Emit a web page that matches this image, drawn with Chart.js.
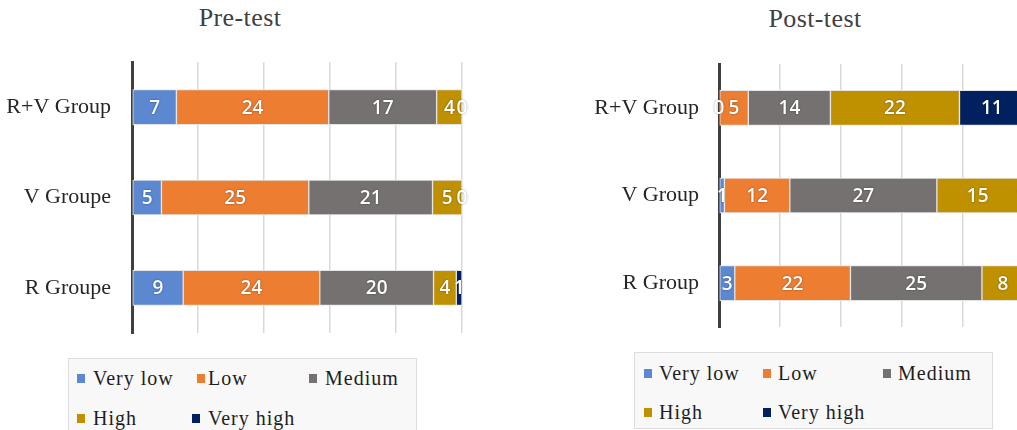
<!DOCTYPE html>
<html>
<head>
<meta charset="utf-8">
<script src="https://cdn.jsdelivr.net/npm/chart.js@4.4.1/dist/chart.umd.min.js"></script>
<style>
  html, body { margin: 0; padding: 0; background: #fff; overflow: hidden; width: 1017px; height: 430px; }
  .box { position: absolute; }
  .title { position: absolute; width: 200px; margin-left: -100px; text-align: center; font-family: 'Liberation Serif', serif; font-size: 26px; line-height: 30px; letter-spacing: 0.4px; color: #404040; }
  .legend { position: absolute; background: #f8f8f8; border: 1px solid #dddddd; box-sizing: border-box; }
  .mark { position: absolute; width: 8px; height: 9px; }
  .txt { position: absolute; font-family: 'Liberation Serif', serif; font-size: 20px; line-height: 24px; letter-spacing: 1px; color: #1e1e1e; white-space: nowrap; }
</style>
</head>
<body>
<div class="title" style="left:240px;top:3px">Pre-test</div>
<div class="title" style="left:815px;top:4px">Post-test</div>
<div class="box" style="left:0;top:0;width:481px;height:340px"><canvas id="preChart"></canvas></div>
<div class="box" style="left:560px;top:0;width:510px;height:340px"><canvas id="postChart"></canvas></div>
<div class="legend" id="preLegend" style="left:68px;top:358px;width:349px;height:80px"></div>
<div class="legend" id="postLegend" style="left:634px;top:352px;width:359px;height:77px"></div>
<script>
const levels = ['Very low', 'Low', 'Medium', 'High', 'Very high'];
const levelColors = ['#5b88d1', '#ed7d31', '#767171', '#bf9000', '#002060'];

const preGroups = ['R+V Group', 'V Groupe', 'R Groupe'];
const preVeryLow = [7, 5, 9];
const preLow = [24, 25, 24];
const preMedium = [17, 21, 20];
const preHigh = [4, 5, 4];
const preVeryHigh = [0, 0, 1];

const postGroups = ['R+V Group', 'V Group', 'R Group'];
const postVeryLow = [0, 1, 3];
const postLow = [5, 12, 22];
const postMedium = [14, 27, 25];
const postHigh = [22, 15, 8];
const postVeryHigh = [11, 1, 0];

const percentTicks = [0, 20, 40, 60, 80, 100];

// labels with the raw counts, centred in each segment
const countLabels = {
    id: 'countLabels',
    afterDatasetsDraw(chart) {
        const ctx = chart.ctx;
        ctx.save();
        ctx.font = '600 19px "Open Sans"';
        ctx.textAlign = 'center';
        ctx.textBaseline = 'middle';
        ctx.fillStyle = '#ffffff';
        ctx.shadowColor = 'rgba(0, 0, 0, 0.45)';
        ctx.shadowBlur = 2;
        chart.data.datasets.forEach((ds, i) => {
            const meta = chart.getDatasetMeta(i);
            meta.data.forEach((bar, j) => {
                const x = (bar.x + bar.base) / 2;
                ctx.fillText(String(ds.counts[j]), x, bar.y + 1);
            });
        });
        ctx.restore();
    }
};

function buildChart(id, groups, series, opts) {
    const totals = groups.map((_, j) => series.reduce((s, arr) => s + arr[j], 0));
    const ctx = document.getElementById(id).getContext('2d');
    return new Chart(ctx, {
        type: 'bar',
        data: {
            labels: groups,
            datasets: series.map((arr, i) => ({
                label: levels[i],
                counts: arr,
                data: arr.map((v, j) => v / totals[j] * 100),
                backgroundColor: levelColors[i],
                borderColor: '#e4e4e4',
                borderWidth: 1,
                borderSkipped: false,
                barThickness: 35
            }))
        },
        options: {
            indexAxis: 'y',
            responsive: true,
            maintainAspectRatio: false,
            animation: false,
            layout: {
                padding: {left: 0, right: opts.padRight, top: opts.padTop, bottom: opts.padBottom}
            },
            plugins: {
                legend: {display: false},
                tooltip: {enabled: false}
            },
            scales: {
                x: {
                    stacked: true,
                    min: 0,
                    max: 100,
                    afterBuildTicks: (scale) => {
                        scale.ticks = percentTicks.map(v => ({value: v}));
                    },
                    ticks: {display: false},
                    border: {display: false},
                    grid: {
                        drawTicks: false,
                        lineWidth: 1.5,
                        color: (c) => c.index === 0 ? 'rgba(0,0,0,0)' : '#d9d9d9'
                    }
                },
                y: {
                    stacked: true,
                    z: 1,
                    afterFit: (scale) => {
                        scale.width = opts.axisWidth;
                        scale.paddingTop = 0;
                        scale.paddingBottom = 0;
                    },
                    ticks: {
                        padding: opts.labelPad,
                        color: '#262626',
                        font: {family: 'Liberation Serif', size: 22}
                    },
                    grid: {display: false, drawTicks: false},
                    border: {display: true, color: '#404040', width: 3}
                }
            }
        },
        plugins: [countLabels]
    });
}

buildChart('preChart', preGroups,
    [preVeryLow, preLow, preMedium, preHigh, preVeryHigh],
    {padRight: 19, padTop: 62, padBottom: 7, axisWidth: 132, labelPad: 21});

buildChart('postChart', postGroups,
    [postVeryLow, postLow, postMedium, postHigh, postVeryHigh],
    {padRight: 46, padTop: 64, padBottom: 13, axisWidth: 159, labelPad: 20});

// legends: marker x, row centre y, text x (page coordinates)
function buildLegend(id, marks) {
    const box = document.getElementById(id);
    const bx = box.offsetLeft + 1, by = box.offsetTop + 1;
    levels.forEach((name, i) => {
        const [mx, my, tx] = marks[i];
        const m = document.createElement('div');
        m.className = 'mark';
        m.style.background = levelColors[i];
        m.style.left = (mx - bx) + 'px';
        m.style.top = (my - 4 - by) + 'px';
        box.appendChild(m);
        const t = document.createElement('div');
        t.className = 'txt';
        t.textContent = name;
        t.style.left = (tx - bx) + 'px';
        t.style.top = (my - 12 - by) + 'px';
        box.appendChild(t);
    });
}

buildLegend('preLegend', [[77, 378, 93], [197, 378, 208], [309, 378, 325], [77, 418, 93], [192, 418, 208]]);
buildLegend('postLegend', [[644, 373, 659], [763, 373, 778], [883, 373, 898], [644, 412, 659], [763, 412, 778]]);
</script>
</body>
</html>
